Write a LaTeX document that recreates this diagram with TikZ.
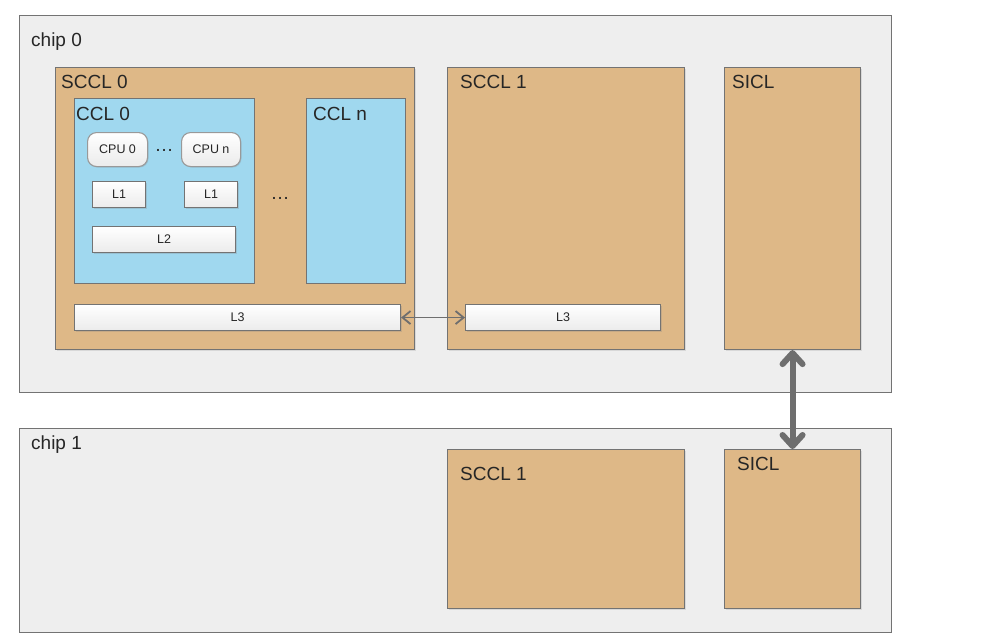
\documentclass[tikz,border=0pt]{standalone}
\usepackage{fontspec}
\setmainfont{Liberation Sans}
\usetikzlibrary{arrows.meta,shadows}
\definecolor{chipgray}{HTML}{EEEEEE}
\definecolor{edgegray}{HTML}{737373}
\definecolor{scclfill}{HTML}{DEB887}
\definecolor{cclfill}{HTML}{A0D8EF}
\definecolor{cachegray}{HTML}{EBEBEB}
\definecolor{arrowgray}{HTML}{6E6E6E}
\tikzset{
  box/.style={draw=edgegray, line width=1.1pt, anchor=north west, inner sep=0pt},
  chip/.style={box, fill=chipgray},
  sccl/.style={box, fill=scclfill, drop shadow={shadow xshift=1pt, shadow yshift=-1pt, opacity=0.2}},
  ccl/.style={box, fill=cclfill},
  cache/.style={box, top color=white, bottom color=cachegray, text=black!85,
    font=\fontsize{12.5}{14}\selectfont,
    drop shadow={shadow xshift=1pt, shadow yshift=-1pt, opacity=0.25}},
  cpu/.style={cache, draw=black!40, rounded corners=9pt, font=\fontsize{12.5}{14}\selectfont},
  tag/.style={anchor=base west, inner sep=0pt, text=black!85, font=\fontsize{19}{22}\selectfont},
  dots/.style={inner sep=0pt, text=black!85, font=\fontsize{19}{20}\selectfont},
  link/.style={draw=arrowgray, line width=1.8pt,
    {Straight Barb[length=8pt,width=13pt]}-{Straight Barb[length=8pt,width=13pt]}},
  bus/.style={draw=arrowgray, line width=6pt,
    {Straight Barb[length=11pt,width=20pt,round]}-{Straight Barb[length=11pt,width=20pt,round]}}
}
\begin{document}
\begin{tikzpicture}[x=1pt,y=-1pt]
  \useasboundingbox[fill=white] (0,0) rectangle (990,640);
  % chips
  \node[chip, minimum width=872pt, minimum height=377pt] (chip0) at (19,15) {};
  \node[chip, minimum width=872pt, minimum height=204pt] (chip1) at (19,428) {};
  \node[tag] (t0) at (31,46) {chip 0};
  \node[tag] (t1) at (31,449) {chip 1};
  % chip 0
  \node[sccl, minimum width=359pt, minimum height=282pt] (sccl0) at (55,67) {};
  \node[sccl, minimum width=237pt, minimum height=282pt] (sccl1) at (447,67) {};
  \node[sccl, minimum width=136pt, minimum height=282pt] (sicl0) at (724,67) {};
  \node[tag] (ts0) at (61,88) {SCCL 0};
  \node[tag] (ts1) at (460,88) {SCCL 1};
  \node[tag] (ti0) at (732,88) {SICL};
  \node[ccl, minimum width=180pt, minimum height=185pt] (ccl0) at (74,98) {};
  \node[ccl, minimum width=99pt, minimum height=185pt] (ccln) at (306,98) {};
  \node[tag] (tc0) at (76,120) {CCL 0};
  \node[tag] (tcn) at (313,120) {CCL n};
  \node[cpu, minimum width=60pt, minimum height=34pt] (cpu0) at (87,132) {CPU 0};
  \node[cpu, minimum width=59pt, minimum height=34pt] (cpun) at (181,132) {CPU n};
  \node[dots] (d0) at (164,150) {\ldots};
  \node[cache, minimum width=53pt, minimum height=26pt] (l1a) at (92,181) {L1};
  \node[cache, minimum width=53pt, minimum height=26pt] (l1b) at (184,181) {L1};
  \node[cache, minimum width=143pt, minimum height=26pt] (l2) at (92,226) {L2};
  \node[dots] (d1) at (280,198) {\ldots};
  \node[cache, minimum width=326pt, minimum height=26pt] (l3a) at (74,304) {L3};
  \node[cache, minimum width=195pt, minimum height=26pt] (l3b) at (465,304) {L3};
  % chip 1
  \node[sccl, minimum width=237pt, minimum height=159pt] (sccl2) at (447,449) {};
  \node[sccl, minimum width=136pt, minimum height=159pt] (sicl1) at (724,449) {};
  \node[tag] (ts2) at (460,480) {SCCL 1};
  \node[tag] (ti1) at (737,470) {SICL};
  % links
  \draw[link] (l3a.east) -- (l3b.west);
  \draw[bus] (sicl0.south) -- (sicl1.north);
\end{tikzpicture}
\end{document}
